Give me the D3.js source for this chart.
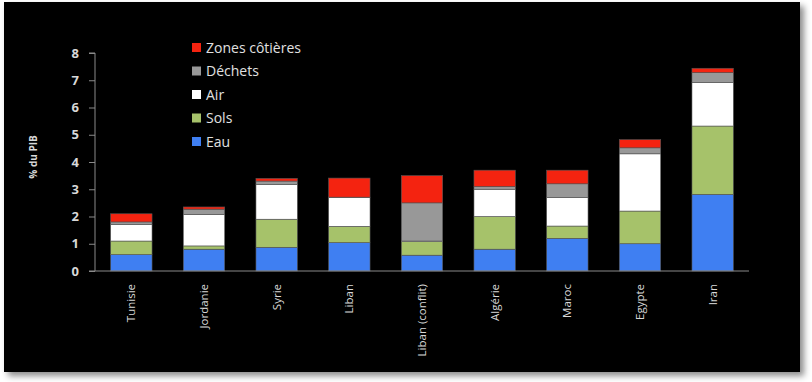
<!DOCTYPE html>
<html><head><meta charset="utf-8">
<script src="https://cdn.jsdelivr.net/npm/d3@7"></script>
<style>body{margin:0;background:#fff;}svg{display:block;}</style>
</head><body>
<script>
const categories = ["Tunisie","Jordanie","Syrie","Liban","Liban (conflit)","Algérie","Maroc","Egypte","Iran"];
const seriesNames = ["Eau","Sols","Air","Déchets","Zones côtières"];
const eau     = [0.60, 0.80, 0.87, 1.04, 0.58, 0.80, 1.20, 1.00, 2.81];
const sols    = [0.50, 0.12, 1.03, 0.60, 0.50, 1.20, 0.45, 1.20, 2.51];
const air     = [0.60, 1.15, 1.28, 1.05, 0.02, 1.00, 1.05, 2.10, 1.59];
const dechets = [0.10, 0.20, 0.12, 0.02, 1.40, 0.10, 0.50, 0.22, 0.37];
const zones   = [0.30, 0.08, 0.10, 0.70, 1.00, 0.60, 0.50, 0.30, 0.16];
const yTicks = [0,1,2,3,4,5,6,7,8];
const colors = ["#3f7ff2","#a6c26a","#ffffff","#989898","#f42310"];

const W=812,H=382;
const svg=d3.select("body").append("svg").attr("width",W).attr("height",H);
const defs=svg.append("defs");
const f=defs.append("filter").attr("id","sh").attr("x","-5%").attr("y","-5%").attr("width","115%").attr("height","115%");
f.append("feDropShadow").attr("dx",4).attr("dy",4).attr("stdDeviation",3).attr("flood-color","#000").attr("flood-opacity",0.45);
svg.append("rect").attr("x",4).attr("y",2).attr("width",796).attr("height",370).attr("fill","#000").attr("filter","url(#sh)");

const x=d3.scaleBand().domain(categories).range([95,749]).paddingInner(0.43).paddingOuter(0.215);
const y=d3.scaleLinear().domain([0,8]).range([271,53]);

const rows=categories.map((c,i)=>({cat:c,"Eau":eau[i],"Sols":sols[i],"Air":air[i],"Déchets":dechets[i],"Zones côtières":zones[i]}));
const stack=d3.stack().keys(seriesNames)(rows);

svg.append("g").selectAll("g").data(stack).join("g").attr("fill",(d,i)=>colors[i])
 .selectAll("rect").data(d=>d).join("rect")
 .attr("x",d=>x(d.data.cat)).attr("width",x.bandwidth())
 .attr("y",d=>y(d[1])).attr("height",d=>Math.max(0,y(d[0])-y(d[1])))
 .attr("stroke","#555").attr("stroke-width",0.6);

// y axis
const ya=svg.append("g").attr("transform","translate(95,0)")
 .call(d3.axisLeft(y).tickValues(yTicks).tickSize(6).tickPadding(10));
ya.select(".domain").attr("stroke","#8a8a8a").attr("d","M-6,53H0V271H-6");
ya.selectAll(".tick line").attr("stroke","#8a8a8a");
ya.selectAll("text").attr("fill","#d8d8d8").attr("font-family","Open Sans, sans-serif").attr("font-weight","bold").attr("font-size",13);

// x axis
const xa=svg.append("g").attr("transform","translate(0,271)").call(d3.axisBottom(x).tickSize(0).tickPadding(0));
xa.select(".domain").attr("stroke","#8a8a8a").attr("d","M95,0H749");
xa.selectAll("text").attr("fill","#d8d8d8").attr("font-family","Open Sans, sans-serif").attr("font-size",11.5)
 .attr("text-anchor","end").attr("dy","0.35em").attr("transform","translate(0,13) rotate(-90)").attr("x",0).attr("y",0);

svg.append("text").text("% du PIB").attr("transform","translate(37,157) rotate(-90)")
 .attr("text-anchor","middle").attr("fill","#d8d8d8").attr("font-family","Open Sans, sans-serif").attr("font-weight","bold").attr("font-size",10);

// legend
const legOrder=["Zones côtières","Déchets","Air","Sols","Eau"];
const lg=svg.append("g").selectAll("g").data(legOrder).join("g").attr("transform",(d,i)=>`translate(192,${48+i*23.5})`);
lg.append("rect").attr("x",0).attr("y",-5).attr("width",9).attr("height",9).attr("fill",d=>colors[seriesNames.indexOf(d)]);
lg.append("text").attr("x",14).attr("y",0).attr("dy","0.35em").text(d=>d)
 .attr("fill","#e0e0e0").attr("font-family","Open Sans, sans-serif").attr("font-size",14);
</script>
</body></html>
